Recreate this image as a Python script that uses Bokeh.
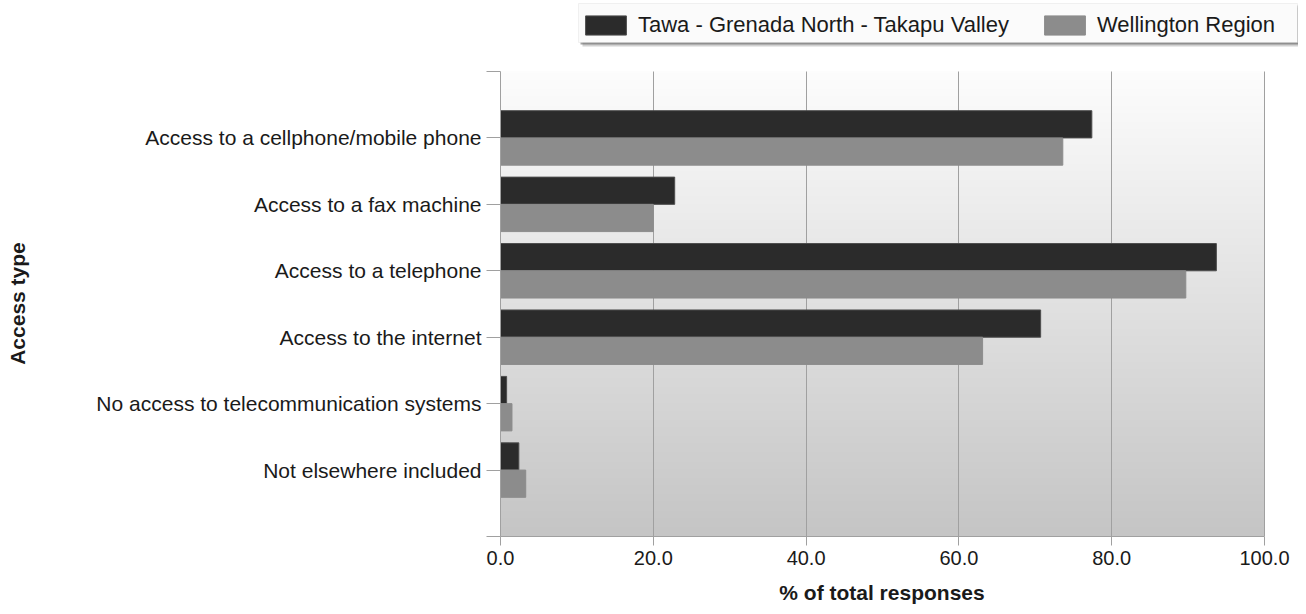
import numpy as np
from bokeh.plotting import figure
from bokeh.models import (Range1d, FixedTicker, Legend, LegendItem, BoxAnnotation,
                          NumeralTickFormatter, ColumnDataSource)
from bokeh.transform import dodge
from bokeh.embed import file_html
from bokeh.resources import INLINE

categories = [
    "Access to a cellphone/mobile phone",
    "Access to a fax machine",
    "Access to a telephone",
    "Access to the internet",
    "No access to telecommunication systems",
    "Not elsewhere included",
]
tawa = [77.4, 22.8, 93.7, 70.7, 0.8, 2.4]
wellington = [73.6, 20.0, 89.7, 63.1, 1.5, 3.3]
series_names = ["Tawa - Grenada North - Takapu Valley", "Wellington Region"]
series_colors = ["#2b2b2b", "#8c8c8c"]
series_lines = ["#4d4d4d", "#8c8c8c"]
x_ticks = [0, 20, 40, 60, 80, 100]
x_title = "% of total responses"
y_title = "Access type"

FONT = "Liberation Sans"
TXT = "#1a1a1a"
GRID = "#a0a0a0"
NBSP = "\u00a0"

# layout (pixels)
W, H = 1298, 606
F_LEFT, F_RIGHT, F_TOP, F_BOTTOM = 500, 1264, 71, 536   # plot area in the picture

n = len(categories)
ypos = [n - 0.5 - i for i in range(n)]          # category slots, first at top
y_lo, y_hi = -0.5, n + 0.5                      # plot area in data units
unit_px = (F_BOTTOM - F_TOP) / (y_hi - y_lo)
x_max = 100 * (W - F_LEFT) / (F_RIGHT - F_LEFT)  # frame runs to the right edge
y_max = y_hi + F_TOP / unit_px                   # frame runs to the top edge


def xd(px):
    return (px - F_LEFT) * 100 / (F_RIGHT - F_LEFT)


def yd(py):
    return y_lo + (F_BOTTOM - py) / unit_px


p = figure(
    width=W, height=H,
    x_range=Range1d(0, x_max), y_range=Range1d(y_lo, y_max),
    output_backend="svg", toolbar_location=None,
    min_border_left=F_LEFT, min_border_right=0, min_border_top=0, min_border_bottom=H - F_BOTTOM,
)
p.outline_line_color = None
p.background_fill_color = "white"
p.border_fill_color = "white"

# gradient background of the plot area
N = 256
g = np.linspace(0xc5, 0xfd, N).astype(np.uint8)
img = np.zeros((N, 1, 4), dtype=np.uint8)
img[:, 0, 0] = g
img[:, 0, 1] = g
img[:, 0, 2] = g
img[:, 0, 3] = 255
p.image_rgba(image=[img.view(np.uint32).reshape(N, 1)], x=0, y=y_lo, dw=100, dh=y_hi - y_lo, level="image")

src = ColumnDataSource(dict(cat=categories, y=ypos, tawa=tawa, wel=wellington))
r1 = p.hbar(y=dodge("y", 0.205), left=0, right="tawa", height=0.41,
            source=src, fill_color=series_colors[0], line_color=series_lines[0], line_width=1)
r2 = p.hbar(y=dodge("y", -0.205), left=0, right="wel", height=0.41,
            source=src, fill_color=series_colors[1], line_color=series_lines[1], line_width=1)

p.xgrid.ticker = FixedTicker(ticks=x_ticks)
p.xgrid.grid_line_color = GRID
p.xgrid.cross_bounds = (y_lo, y_hi)
p.ygrid.visible = False

xa = p.xaxis[0]
xa.ticker = FixedTicker(ticks=x_ticks)
xa.formatter = NumeralTickFormatter(format="0.0")
xa.bounds = (0, 100)
# trailing no-break spaces re-centre the title under the plot area (frame is wider)
xa.axis_label = x_title + NBSP * 6

ya = p.yaxis[0]
ya.ticker = FixedTicker(ticks=[y_lo] + ypos + [y_hi])
ya.major_label_overrides = {**{y: c for y, c in zip(ypos, categories)}, y_lo: "", y_hi: ""}
ya.bounds = (y_lo, y_hi)
# trailing no-break spaces re-centre the title beside the plot area (frame is taller)
ya.axis_label = y_title + NBSP * 12

for ax in (xa, ya):
    ax.major_label_text_font = FONT
    ax.major_label_text_color = TXT
    ax.axis_label_text_font = FONT
    ax.axis_label_text_font_style = "bold"
    ax.axis_label_text_color = TXT
    ax.axis_line_color = GRID
    ax.major_tick_line_color = GRID
    ax.minor_tick_line_color = None
    ax.major_tick_in = 0
xa.major_label_text_font_size = "20px"
xa.axis_label_text_font_size = "21px"
xa.major_tick_out = 9
xa.major_label_standoff = 5
xa.axis_label_standoff = 13

ya.major_label_text_font_size = "21px"
ya.axis_label_text_font_size = "21px"
ya.major_tick_out = 14
ya.major_label_standoff = 5
ya.axis_label_standoff = 64

# legend box with a soft drop shadow, above the plot area
LB = dict(left=578, right=1297, top=3, bottom=42)
for off, col, alpha in ((4, "#9a9a9a", 0.45), (2, "#5a5a5a", 0.55)):
    p.add_layout(BoxAnnotation(left=xd(LB["left"] + off), right=xd(LB["right"] + off),
                               top=yd(LB["top"] + off), bottom=yd(LB["bottom"] + off),
                               fill_color=col, fill_alpha=alpha, line_color=None))
p.add_layout(BoxAnnotation(left=xd(LB["left"]), right=xd(LB["right"]),
                           top=yd(LB["top"]), bottom=yd(LB["bottom"]),
                           fill_color="#fbfbfb", fill_alpha=1, line_color="#d4d4d4", line_width=1))

legend = Legend(
    items=[LegendItem(label=series_names[0], renderers=[r1]),
           LegendItem(label=series_names[1], renderers=[r2])],
    orientation="horizontal", location=(580 - F_LEFT, F_BOTTOM - 37.5),
    glyph_width=51, glyph_height=24, label_standoff=7, spacing=30,
    padding=5, margin=0,
    label_text_font=FONT, label_text_font_size="22px", label_text_color=TXT,
    border_line_color=None, background_fill_alpha=0,
)
p.add_layout(legend, "center")

open("out.html", "w").write(file_html(p, INLINE))
